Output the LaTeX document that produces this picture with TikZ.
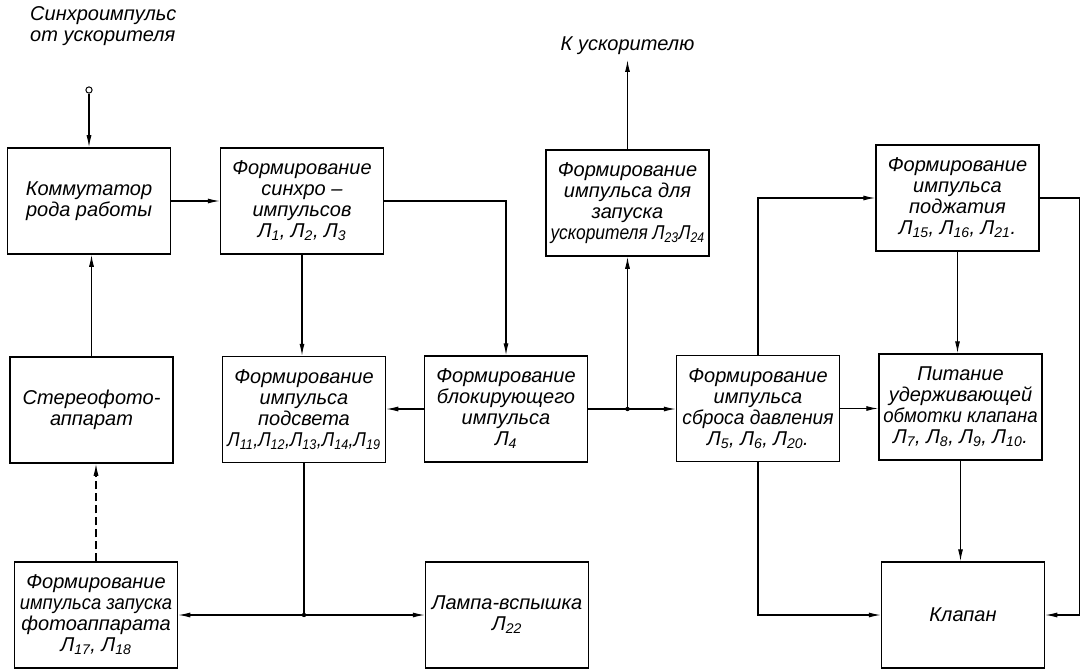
\documentclass[tikz,border=0pt]{standalone}
\usepackage{fontspec}
\usepackage{graphicx}
\setmainfont{Liberation Sans}
\usetikzlibrary{arrows.meta, calc}

\newcommand{\lmp}[1]{Л\textsubscript{#1}}
\newcommand{\narrow}[2]{\scalebox{#1}[1]{#2}}

\begin{document}
\begin{tikzpicture}[
  x=1pt, y=-1pt,
  font=\fontsize{20}{21}\selectfont\itshape,
  blk/.style={draw, line width=1.5pt, minimum width=163pt, minimum height=106pt, align=center, inner sep=1pt},
  ar/.style={-{Latex[length=12pt, width=5pt]}, line width=1.1pt},
  ln/.style={line width=1.1pt},
  lbl/.style={align=left, inner sep=0pt}
]
\useasboundingbox (0,0) rectangle (1084,671);
% top row
\node[blk] (komm) at (89,201) {Коммутатор\\рода работы};
\node[blk] (sinh) at (302,201) {Формирование\\синхро~--\\импульсов\\\lmp{1}, \lmp{2}, \lmp{3}};
\node[blk] (zapu) at (627.5,203) {Формирование\\импульса для\\запуска\\\narrow{0.87}{ускорителя \lmp{23}\lmp{24}}};
\node[blk] (podzh) at (957.5,198) {Формирование\\импульса\\поджатия\\\lmp{15}, \lmp{16}, \lmp{21}.};
% middle row
\node[blk] (stereo) at (91.5,410) {Стереофото-\\аппарат};
\node[blk] (podsv) at (304,409.5) {Формирование\\импульса\\подсвета\\\narrow{0.9}{\lmp{11},\lmp{12},\lmp{13},\lmp{14},\lmp{19}}};
\node[blk] (blok) at (506,409) {Формирование\\блокирующего\\импульса\\\lmp{4}};
\node[blk] (sbros) at (758,408.5) {Формирование\\импульса\\\narrow{0.96}{сброса давления}\\\lmp{5}, \lmp{6}, \lmp{20}.};
\node[blk] (pitan) at (960.5,407) {Питание\\удерживающей\\\narrow{0.93}{обмотки клапана}\\\lmp{7}, \lmp{8}, \lmp{9}, \lmp{10}.};
% bottom row
\node[blk] (foto) at (96,615) {Формирование\\\narrow{0.92}{импульса запуска}\\фотоаппарата\\\lmp{17}, \lmp{18}};
\node[blk] (lampa) at (507,615) {Лампа-вспышка\\\lmp{22}};
\node[blk] (klap) at (963,615) {Клапан};
% free ends and labels
\node[lbl, anchor=north west] (sync) at (30,6) {Синхроимпульс\\от ускорителя};
\node[circle, draw, line width=1pt, inner sep=2.2pt] (inp) at (89,90) {};
\coordinate (out) at (zapu.north |- 0,60);
\node[lbl, above=5pt] (tous) at (out) {К ускорителю};
\coordinate (j1) at (zapu.south |- blok.east);
\coordinate (j2) at (podsv.south |- foto.east);
\coordinate (rt) at ($(podzh.east)+(40,0)$);

\draw[ar] (inp) -- (komm.north);
\draw[ar] (komm.east) -- (sinh.west);
\draw[ar] (sinh.east) -| (blok.north);
\draw[ar] (sinh.south) -- (sinh.south |- podsv.north);
\draw[ar] (stereo.north) -- (stereo.north |- komm.south);
\draw[ar, dashed, dash pattern=on 8pt off 4pt] (foto.north) -- (foto.north |- stereo.south);
\draw[ar] (blok.west) -- (blok.west -| podsv.east);
\draw[ar] (blok.east) -- (blok.east -| sbros.west);
\fill (j1) circle (2.2);
\draw[ar] (j1) -- (zapu.south);
\draw[ar] (zapu.north) -- (out);
\draw[ar] (sbros.north) |- (podzh.west);
\draw[ar] (podzh.south) -- (podzh.south |- pitan.north);
\draw[ar] (sbros.east) -- (sbros.east -| pitan.west);
\draw[ar] (pitan.south) -- (pitan.south |- klap.north);
\draw[ar] (sbros.south) |- (klap.west);
\draw[ar] (podzh.east) -- (rt) |- (klap.east);
\draw[ln] (podsv.south) -- (j2);
\fill (j2) circle (2.2);
\draw[ar] (j2) -- (foto.east);
\draw[ar] (j2) -- (j2 -| lampa.west);
\end{tikzpicture}
\end{document}
